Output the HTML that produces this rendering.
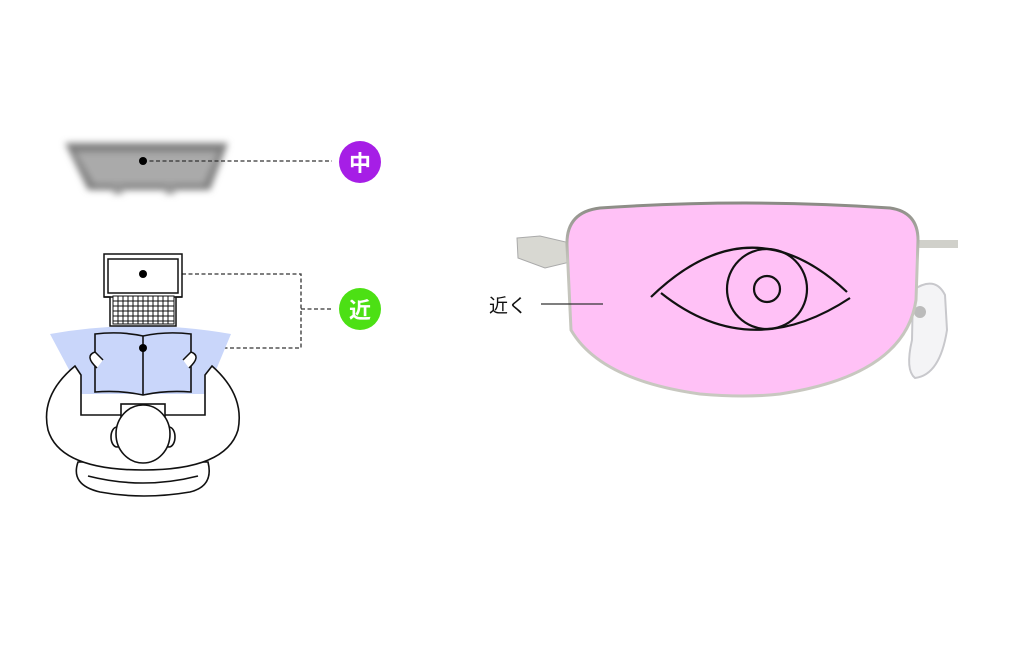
<!DOCTYPE html>
<html><head><meta charset="utf-8"><style>
html,body{margin:0;padding:0;background:#fff;}
svg{display:block}
text{font-family:"Liberation Sans","Noto Sans CJK JP",sans-serif}
</style></head><body>
<svg width="1024" height="652" viewBox="0 0 1024 652" xmlns="http://www.w3.org/2000/svg">
<defs>
<filter id="bl" x="-20%" y="-40%" width="140%" height="180%"><feGaussianBlur stdDeviation="3.5"/></filter>
<linearGradient id="fr" x1="0" y1="0" x2="0" y2="1"><stop offset="0" stop-color="#8a8a84"/><stop offset="0.3" stop-color="#c4c4bc"/><stop offset="1" stop-color="#c8c8c0"/></linearGradient>
</defs>
<g filter="url(#bl)">
<polygon points="65,143 228,143 210,190 88,190" fill="#7e7e7e"/>
<polygon points="75,152 218,152 204,184 94,184" fill="#aaa"/>
<rect x="113" y="186" width="10" height="8" fill="#999"/>
<rect x="165" y="186" width="10" height="8" fill="#999"/>
</g>
<g stroke="#333" stroke-width="1.3" stroke-dasharray="4,2.5" fill="none">
<line x1="143" y1="161" x2="332" y2="161"/>
<polyline points="143,274 301,274 301,348 143,348"/>
<line x1="301" y1="309" x2="332" y2="309"/>
</g>
<circle cx="143" cy="161" r="4" fill="#000"/>
<circle cx="360" cy="162" r="21" fill="#a61ee6"/>
<text x="360" y="171" font-size="22" font-weight="bold" fill="#fff" text-anchor="middle">中</text>
<circle cx="360" cy="309" r="21" fill="#4ce014"/>
<text x="360" y="318" font-size="22" font-weight="bold" fill="#fff" text-anchor="middle">近</text>
<path d="M50,334 Q140,318 231,334 L206,394 L82,394 Z" fill="#c9d6fa"/>
<g stroke="#111" stroke-width="1.5" fill="#fff">
<rect x="104" y="254" width="78" height="43"/>
<rect x="108" y="259" width="70" height="34" fill="none"/>
<path d="M104,297 L110,297 L110,326 L176,326 L176,297 L182,297" fill="none"/>
</g>
<g stroke="#111" stroke-width="1">
<rect x="113" y="296" width="61" height="28" fill="#fff"/>
<path d="M113,301h61M113,306h61M113,311h61M113,316h61M113,321h61M118,296v28M123,296v28M128,296v28M133,296v28M138,296v28M143,296v28M148,296v28M153,296v28M158,296v28M163,296v28M168,296v28"/>
</g>
<circle cx="143" cy="274" r="4" fill="#000"/>
<g stroke="#111" stroke-width="1.6" fill="#fff">
<path d="M78,462 Q70,485 100,492 Q143,500 190,492 Q214,486 208,462 Z"/>
<path d="M88,476 Q143,490 198,476" fill="none"/>
<path d="M75,366 Q40,395 48,430 Q60,470 143,470 Q226,470 238,430 Q245,395 212,366 L205,375 L205,415 L81,415 L81,375 Z"/>
<rect x="121" y="404" width="44" height="16" fill="#fff"/>
<ellipse cx="117" cy="437" rx="6" ry="10"/>
<ellipse cx="169" cy="437" rx="6" ry="10"/>
<ellipse cx="143" cy="434" rx="27" ry="29"/>
</g>
<path d="M95,334 Q120,331 143,336 Q166,331 191,334 L191,392 Q166,390 143,395 Q120,390 95,392 Z" fill="#c9d6fa" stroke="#111" stroke-width="1.6"/>
<line x1="143" y1="336" x2="143" y2="395" stroke="#111" stroke-width="1.6"/>
<path d="M97,368 Q84,356 95,352 L103,360 M189,368 Q202,356 191,352 L183,360" fill="#fff" stroke="#111" stroke-width="1.5"/>
<circle cx="143" cy="348" r="4" fill="#000"/>
<path d="M517,238 L540,236 L570,243 L570,262 L545,268 L518,258 Z" fill="#d8d8d2" stroke="#aaa" stroke-width="1"/>
<rect x="912" y="240" width="46" height="8" fill="#d0d0ca"/>
<path d="M913,290 Q935,275 945,295 L947,330 Q940,375 915,378 Q905,370 912,340 Z" fill="#f4f4f6" stroke="#c8c8cc" stroke-width="2"/>
<circle cx="920" cy="312" r="6" fill="#bbb"/>
<path d="M567,245 Q566,212 600,208 Q745,198 890,208 Q918,212 918,240 L916,300 Q905,375 780,394 Q745,398 700,394 Q600,380 571,330 Z" fill="#ffc1f6" stroke="url(#fr)" stroke-width="3"/>
<g stroke="#111" stroke-width="2.2" fill="none">
<path d="M651,297 Q750,201 847,292"/>
<path d="M661,293 Q750,364 850,298"/>
<circle cx="767" cy="289" r="40"/>
<circle cx="767" cy="289" r="13"/>
</g>
<text x="489" y="312" font-size="19" fill="#111">近く</text>
<line x1="541" y1="304" x2="603" y2="304" stroke="#333" stroke-width="1.3"/>
</svg>
</body></html>
